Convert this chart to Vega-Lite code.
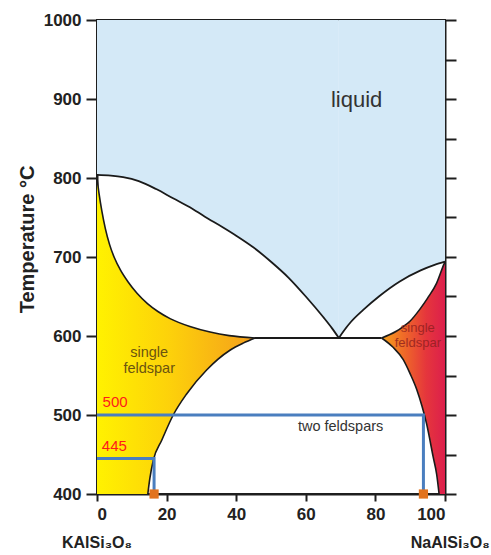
{
  "$schema": "https://vega.github.io/schema/vega-lite/v6.json",
  "width": 348,
  "height": 474,
  "autosize": "none",
  "padding": {"left": 97, "top": 20, "right": 46, "bottom": 61},
  "background": "white",
  "config": {
    "view": {"stroke": "#1e1e1e", "strokeWidth": 2},
    "font": "Liberation Sans",
    "axis": {"grid": false, "domainColor": "#1e1e1e", "domainWidth": 2, "tickColor": "#1e1e1e", "tickWidth": 2, "labelFont": "Liberation Sans", "labelFontWeight": "bold", "labelColor": "#222", "labelFontSize": 17}
  },
  "datasets": {
    "liq": [
      {"p": "L", "x": 0, "T": 804}, {"p": "L", "x": 4, "T": 803}, {"p": "L", "x": 7.5, "T": 801}, {"p": "L", "x": 12, "T": 796}, {"p": "L", "x": 17, "T": 786},
      {"p": "L", "x": 22, "T": 774}, {"p": "L", "x": 26.7, "T": 763}, {"p": "L", "x": 31, "T": 751}, {"p": "L", "x": 36, "T": 738}, {"p": "L", "x": 40, "T": 727},
      {"p": "L", "x": 45, "T": 712}, {"p": "L", "x": 50, "T": 694}, {"p": "L", "x": 55, "T": 674}, {"p": "L", "x": 60, "T": 650}, {"p": "L", "x": 65, "T": 624},
      {"p": "L", "x": 67.5, "T": 610}, {"p": "L", "x": 69.5, "T": 597.5},
      {"p": "R", "x": 69.5, "T": 597.5}, {"p": "R", "x": 71, "T": 607}, {"p": "R", "x": 73, "T": 618}, {"p": "R", "x": 76.5, "T": 633},
      {"p": "R", "x": 81, "T": 650}, {"p": "R", "x": 87, "T": 669}, {"p": "R", "x": 93, "T": 683}, {"p": "R", "x": 97, "T": 690}, {"p": "R", "x": 100, "T": 694}
    ],
    "yel": [
      {"p": "L", "x": 14.6, "T": 400}, {"p": "L", "x": 15.2, "T": 420}, {"p": "L", "x": 16.2, "T": 443}, {"p": "L", "x": 18.6, "T": 468}, {"p": "L", "x": 21.9, "T": 500},
      {"p": "L", "x": 25.8, "T": 527}, {"p": "L", "x": 31.5, "T": 557}, {"p": "L", "x": 38.2, "T": 582}, {"p": "L", "x": 42, "T": 591}, {"p": "L", "x": 45.4, "T": 597.5},
      {"p": "U", "x": 45.4, "T": 597.5}, {"p": "U", "x": 38, "T": 600.5}, {"p": "U", "x": 32.5, "T": 605}, {"p": "U", "x": 26.7, "T": 612}, {"p": "U", "x": 21, "T": 622},
      {"p": "U", "x": 17.5, "T": 631}, {"p": "U", "x": 14.5, "T": 641}, {"p": "U", "x": 11.5, "T": 654}, {"p": "U", "x": 9, "T": 668}, {"p": "U", "x": 6.8, "T": 683},
      {"p": "U", "x": 5, "T": 699}, {"p": "U", "x": 3.6, "T": 716}, {"p": "U", "x": 2.4, "T": 736}, {"p": "U", "x": 1.4, "T": 758}, {"p": "U", "x": 0.6, "T": 780}, {"p": "U", "x": 0, "T": 800}
    ],
    "red": [
      {"p": "L", "x": 98.3, "T": 400}, {"p": "L", "x": 97.6, "T": 425}, {"p": "L", "x": 96.6, "T": 447}, {"p": "L", "x": 94.7, "T": 489}, {"p": "L", "x": 93.4, "T": 511},
      {"p": "L", "x": 91.9, "T": 532}, {"p": "L", "x": 90, "T": 552}, {"p": "L", "x": 88, "T": 570}, {"p": "L", "x": 85, "T": 586}, {"p": "L", "x": 81.8, "T": 597.5},
      {"p": "U", "x": 81.8, "T": 597.5}, {"p": "U", "x": 84, "T": 601.5}, {"p": "U", "x": 86, "T": 606}, {"p": "U", "x": 88, "T": 612}, {"p": "U", "x": 90, "T": 619},
      {"p": "U", "x": 92.8, "T": 634}, {"p": "U", "x": 95, "T": 648}, {"p": "U", "x": 97.6, "T": 667}, {"p": "U", "x": 99.7, "T": 691}, {"p": "U", "x": 100, "T": 694}
    ],
    "guides": [
      {"g": "500", "i": 0, "x": 0, "T": 500}, {"g": "500", "i": 1, "x": 93.8, "T": 500}, {"g": "500", "i": 2, "x": 93.8, "T": 400},
      {"g": "445", "i": 0, "x": 0, "T": 445}, {"g": "445", "i": 1, "x": 16.4, "T": 445}, {"g": "445", "i": 2, "x": 16.4, "T": 400}
    ],
    "points": [{"x": 16.4, "T": 400}, {"x": 93.8, "T": 400}],
    "redlabels": [{"x": 1.6, "T": 516, "text": "500"}, {"x": 1.4, "T": 461, "text": "445"}],
    "leftlabel": [{"x": 15, "T": 578.5, "text": "single"}, {"x": 15, "T": 558, "text": "feldspar"}],
    "rightlabel": [{"x": 92.2, "T": 609.7, "text": "single"}, {"x": 92.2, "T": 591, "text": "feldspar"}],
    "bottomlabels": [{"x": 0, "T": 338, "text": "KAlSi₃O₈"}, {"x": 101.5, "T": 338, "text": "NaAlSi₃O₈"}]
  },
  "resolve": {"axis": {"y": "independent"}},
  "layer": [
    {
      "layer": [
        {
          "data": {"name": "liq"},
          "mark": {"type": "area", "color": "#d4e9f7", "interpolate": "monotone"},
          "encoding": {
            "x": {"field": "x", "type": "quantitative", "scale": {"domain": [0, 100], "nice": false},
              "axis": {"values": [0, 10, 20, 30, 40, 50, 60, 70, 80, 90, 100], "labelExpr": "datum.value % 20 == 0 ? datum.label : ''", "tickSize": 7, "labelPadding": 5, "title": null}},
            "y": {"field": "T", "type": "quantitative", "scale": {"domain": [400, 1000], "nice": false, "zero": false},
              "axis": {"values": [400, 450, 500, 550, 600, 650, 700, 750, 800, 850, 900, 950, 1000], "format": "d", "labelExpr": "datum.value % 100 == 0 ? datum.label : ''", "tickSize": 11, "labelPadding": 5,
                "title": "Temperature °C", "titleFont": "Liberation Sans", "titleFontSize": 20, "titleFontWeight": "bold", "titleColor": "#222", "titleX": -70, "titleY": 219, "titleBaseline": "middle", "titleAlign": "center"}},
            "y2": {"datum": 1000},
            "detail": {"field": "p"}
          }
        },
        {
          "data": {"name": "yel"},
          "mark": {"type": "area", "orient": "horizontal", "interpolate": "monotone",
            "color": {"gradient": "linear", "x1": 0, "y1": 0, "x2": 1, "y2": 0, "stops": [{"offset": 0, "color": "#fff200"}, {"offset": 0.45, "color": "#fdd20a"}, {"offset": 1, "color": "#f59f1c"}]}},
          "encoding": {
            "y": {"field": "T", "type": "quantitative"},
            "x": {"field": "x", "type": "quantitative"},
            "x2": {"datum": 0},
            "detail": {"field": "p"}
          }
        },
        {
          "data": {"name": "red"},
          "mark": {"type": "area", "orient": "horizontal", "interpolate": "monotone",
            "color": {"gradient": "linear", "x1": 0, "y1": 0, "x2": 1, "y2": 0, "stops": [{"offset": 0, "color": "#f5a21c"}, {"offset": 0.35, "color": "#ef6a28"}, {"offset": 0.7, "color": "#e5363c"}, {"offset": 1, "color": "#dc1f4c"}]}},
          "encoding": {
            "y": {"field": "T", "type": "quantitative"},
            "x": {"field": "x", "type": "quantitative"},
            "x2": {"datum": 100},
            "detail": {"field": "p"}
          }
        },
        {
          "data": {"name": "liq"},
          "mark": {"type": "line", "color": "#1a1a1a", "strokeWidth": 1.8, "interpolate": "monotone"},
          "encoding": {"x": {"field": "x", "type": "quantitative"}, "y": {"field": "T", "type": "quantitative"}, "detail": {"field": "p"}}
        },
        {
          "data": {"name": "yel"},
          "mark": {"type": "line", "color": "#1a1a1a", "strokeWidth": 1.6, "interpolate": "monotone"},
          "encoding": {"x": {"field": "x", "type": "quantitative"}, "y": {"field": "T", "type": "quantitative"}, "detail": {"field": "p"}}
        },
        {
          "data": {"name": "red"},
          "mark": {"type": "line", "color": "#1a1a1a", "strokeWidth": 1.6, "interpolate": "monotone"},
          "encoding": {"x": {"field": "x", "type": "quantitative"}, "y": {"field": "T", "type": "quantitative"}, "detail": {"field": "p"}}
        },
        {
          "data": {"values": [{}]},
          "mark": {"type": "rule", "color": "#1a1a1a", "strokeWidth": 1.8},
          "encoding": {"x": {"datum": 45.4}, "x2": {"datum": 81.8}, "y": {"datum": 597.5}}
        },
        {
          "data": {"name": "guides"},
          "mark": {"type": "line", "color": "#4a7ebf", "strokeWidth": 3, "strokeJoin": "miter"},
          "encoding": {"x": {"field": "x", "type": "quantitative"}, "y": {"field": "T", "type": "quantitative"}, "detail": {"field": "g"}, "order": {"field": "i"}}
        },
        {
          "data": {"name": "points"},
          "mark": {"type": "point", "shape": "square", "filled": true, "color": "#e2731e", "opacity": 1, "size": 85},
          "encoding": {"x": {"field": "x", "type": "quantitative"}, "y": {"field": "T", "type": "quantitative"}}
        },
        {
          "data": {"values": [{"x": 74.6, "T": 899, "text": "liquid"}]},
          "mark": {"type": "text", "font": "Liberation Sans", "fontSize": 22, "color": "#333333", "baseline": "middle"},
          "encoding": {"x": {"field": "x", "type": "quantitative"}, "y": {"field": "T", "type": "quantitative"}, "text": {"field": "text"}}
        },
        {
          "data": {"values": [{"x": 70, "T": 485, "text": "two feldspars"}]},
          "mark": {"type": "text", "font": "Liberation Sans", "fontSize": 14.5, "color": "#333333", "baseline": "middle"},
          "encoding": {"x": {"field": "x", "type": "quantitative"}, "y": {"field": "T", "type": "quantitative"}, "text": {"field": "text"}}
        },
        {
          "data": {"name": "leftlabel"},
          "mark": {"type": "text", "font": "Liberation Sans", "fontSize": 14.5, "color": "#6b5410", "baseline": "middle"},
          "encoding": {"x": {"field": "x", "type": "quantitative"}, "y": {"field": "T", "type": "quantitative"}, "text": {"field": "text"}}
        },
        {
          "data": {"name": "rightlabel"},
          "mark": {"type": "text", "font": "Liberation Sans", "fontSize": 13, "color": "#8e1e1e", "opacity": 0.8, "baseline": "middle"},
          "encoding": {"x": {"field": "x", "type": "quantitative"}, "y": {"field": "T", "type": "quantitative"}, "text": {"field": "text"}}
        },
        {
          "data": {"name": "redlabels"},
          "mark": {"type": "text", "font": "Liberation Sans", "fontSize": 15, "color": "#ff1a1a", "align": "left", "baseline": "middle"},
          "encoding": {"x": {"field": "x", "type": "quantitative"}, "y": {"field": "T", "type": "quantitative"}, "text": {"field": "text"}}
        },
        {
          "data": {"name": "bottomlabels"},
          "mark": {"type": "text", "font": "Liberation Sans", "fontSize": 16, "fontWeight": "bold", "color": "#222222", "baseline": "middle"},
          "encoding": {"x": {"field": "x", "type": "quantitative"}, "y": {"field": "T", "type": "quantitative"}, "text": {"field": "text"}}
        }
      ]
    },
    {
      "data": {"name": "points"},
      "mark": {"type": "point", "opacity": 0},
      "encoding": {
        "x": {"field": "x", "type": "quantitative"},
        "y": {"field": "T", "type": "quantitative", "axis": {"orient": "right", "values": [400, 450, 500, 550, 600, 650, 700, 750, 800, 850, 900, 950, 1000], "labels": false, "tickSize": 11, "title": null}}
      }
    }
  ]
}
